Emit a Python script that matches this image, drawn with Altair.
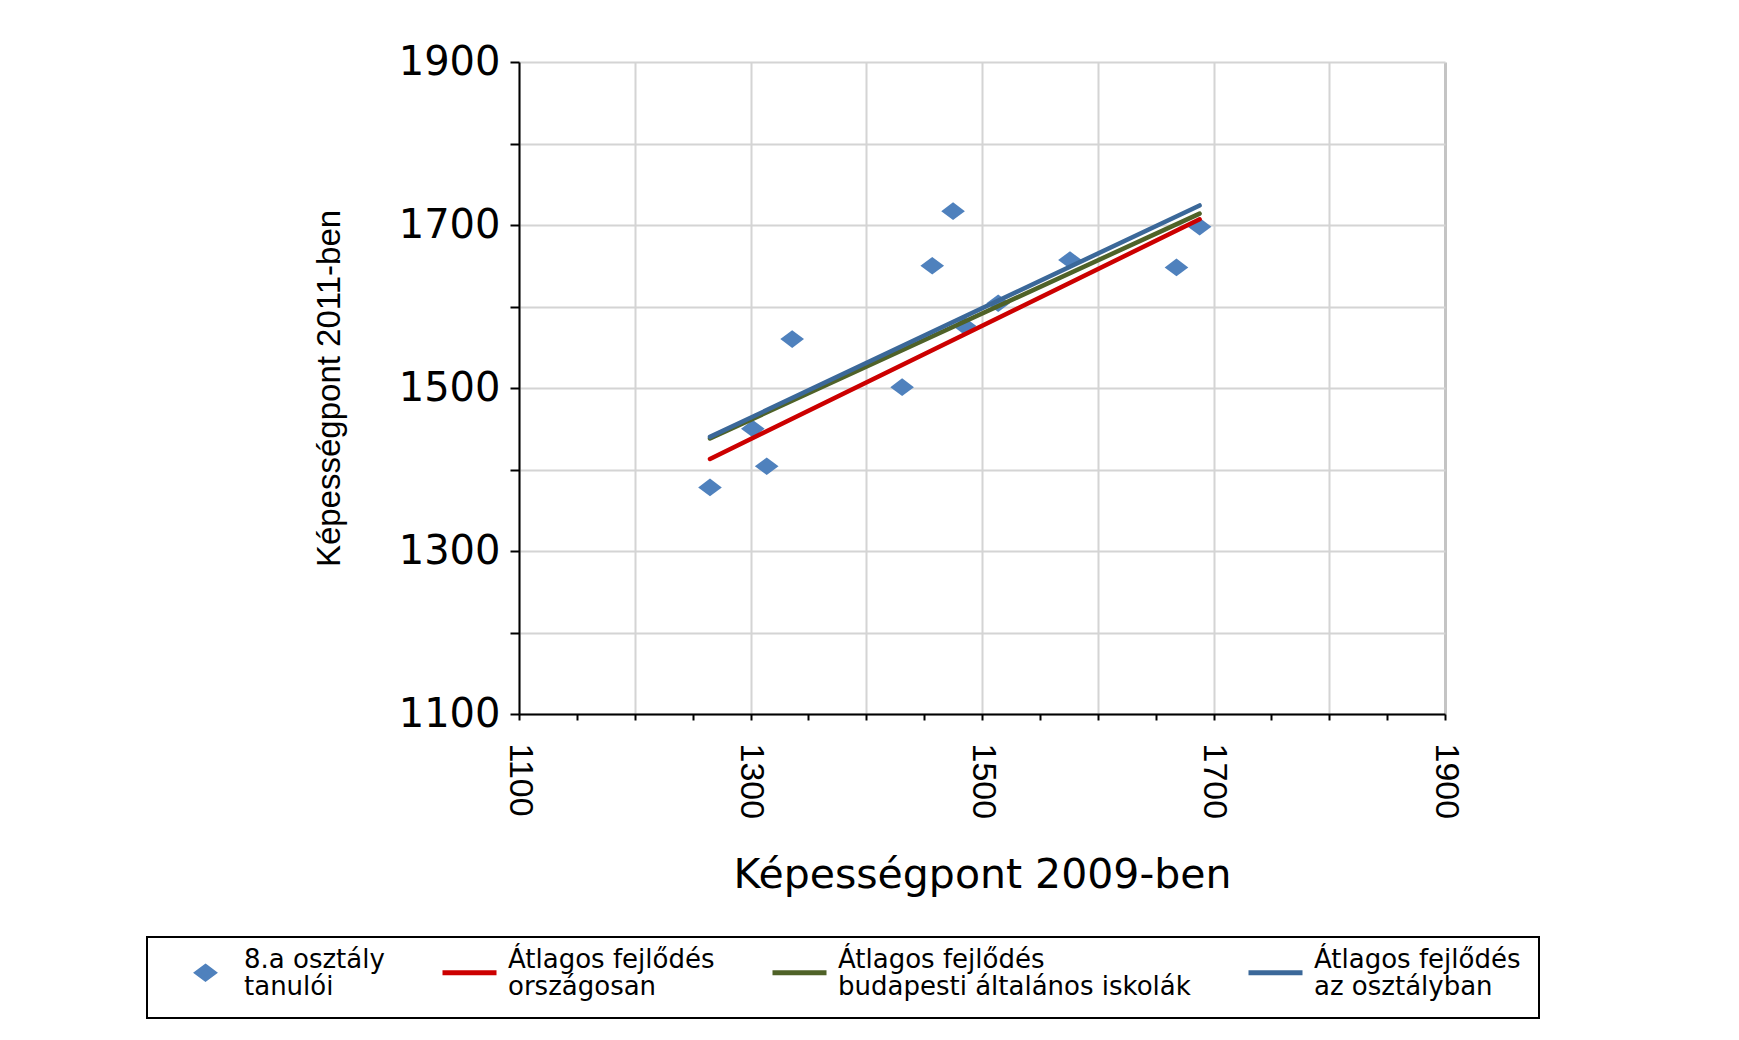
import altair as alt
import pandas as pd

# --- data ---
series_names = [
    "8.a osztály|tanulói",
    "Átlagos fejlődés|országosan",
    "Átlagos fejlődés|budapesti általános iskolák",
    "Átlagos fejlődés|az osztályban",
]
series_colors = ["#4F81BD", "#CC0000", "#4F6228", "#3B6899"]

# students of class 8.a (points)
score_2009 = [1265, 1302, 1314, 1336, 1431, 1457, 1475, 1485, 1514, 1576, 1668, 1688]
score_2011 = [1378, 1450, 1404, 1560, 1501, 1650, 1717, 1576, 1604, 1657, 1648, 1698]

# average-progress lines (start and end)
line_x = [1265, 1688]
red_y = [1413, 1707]
green_y = [1438, 1714]
blue_y = [1440, 1724]

axis_values = [1100, 1150, 1200, 1250, 1300, 1350, 1400, 1450, 1500, 1550,
               1600, 1650, 1700, 1750, 1800, 1850, 1900]
y_values = [1100, 1200, 1300, 1400, 1500, 1600, 1700, 1800, 1900]

pts = pd.DataFrame({"x": score_2009, "y": score_2011, "series": series_names[0]})
rows = []
for name, ys in zip(series_names[1:], [red_y, green_y, blue_y]):
    for xv, yv in zip(line_x, ys):
        rows.append({"x": xv, "y": yv, "series": name})
lines = pd.DataFrame(rows)

diamond = "M0,-0.41L0.55,0L0,0.41L-0.55,0Z"
dash = "M-1.8,0L1.8,0"

xscale = alt.Scale(domain=[1100, 1900], nice=False, zero=False)
yscale = alt.Scale(domain=[1100, 1900], nice=False, zero=False)

legend = alt.Legend(
    title=None, orient="none", legendX=-372, legendY=875,
    direction="horizontal", columns=4,
    labelExpr="split(datum.label, '|')",
    labelFont="DejaVu Sans", labelFontSize=26, labelColor="black", labelLimit=800,
    labelBaseline="bottom",
    symbolSize=900, symbolStrokeWidth=5, symbolOffset=23, labelOffset=21,
    columnPadding=44, padding=18, strokeColor="black", fillColor="white",
)

color = alt.Color("series:N", scale=alt.Scale(domain=series_names, range=series_colors), legend=legend)
shape = alt.Shape("series:N", scale=alt.Scale(domain=series_names,
                  range=[diamond, dash, dash, dash]), legend=legend)

x_axis = alt.Axis(
    values=axis_values, format="d", title="Képességpont 2009-ben",
    labelExpr="datum.value % 200 == 100 ? datum.label : ''",
    labelAngle=90, labelPadding=23, labelFont="Liberation Sans", labelFontSize=34,
    labelColor="black", labelFlush=False, labelOverlap=False,
    tickSize=6, tickColor="black", tickWidth=2,
    domainColor="black", domainWidth=2,
    grid=True,
    gridOpacity={"condition": {"test": "datum.value % 100 == 0", "value": 1}, "value": 0},
    gridColor={"condition": {"test": "datum.value == 1900", "value": "#c4c4c4"}, "value": "#d4d4d4"},
    gridWidth={"condition": {"test": "datum.value == 1900", "value": 3}, "value": 2},
    titleFont="DejaVu Sans", titleFontSize=41, titleFontWeight="normal",
    titleColor="black", titlePadding=37,
)
y_axis = alt.Axis(
    values=y_values, format="d", title="Képességpont 2011-ben",
    labelExpr="datum.value % 200 == 100 ? datum.label : ''",
    labelPadding=10, labelFont="DejaVu Sans", labelFontSize=40, labelColor="black",
    labelFlush=False, labelOverlap=False,
    tickSize=9, tickColor="black", tickWidth=2,
    domainColor="black", domainWidth=2,
    grid=True, gridColor="#d4d4d4", gridWidth=2,
    titleFont="Liberation Sans", titleFontSize=33, titleFontWeight="normal",
    titleColor="black", titlePadding=52,
)

points = alt.Chart(pts).mark_point(filled=True, opacity=1, size=1850).encode(
    x=alt.X("x:Q", scale=xscale, axis=x_axis),
    y=alt.Y("y:Q", scale=yscale, axis=y_axis),
    color=color,
    shape=shape,
)

line_layer = alt.Chart(lines).mark_line(strokeWidth=4.5, strokeCap="round").encode(
    x=alt.X("x:Q", scale=xscale),
    y=alt.Y("y:Q", scale=yscale),
    color=color,
    detail="series:N",
    order="x:Q",
)

chart = alt.layer(points, line_layer).properties(
    width=926, height=652,
    autosize="none",
    padding={"left": 511, "top": 54, "right": 280, "bottom": 314},
    background="white",
).configure(
    style={"guide-label": {"lineHeight": 27}}
).configure_view(strokeWidth=0).configure_legend(strokeWidth=2)

chart.save("out.html", embed_options={"renderer": "svg", "actions": False})
